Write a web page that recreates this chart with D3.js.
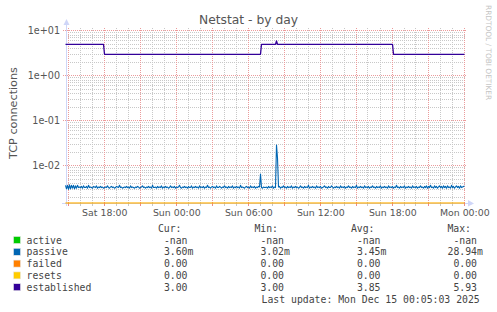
<!DOCTYPE html>
<html><head><meta charset="utf-8">
<script src="https://cdn.jsdelivr.net/npm/d3@7"></script>
<style>html,body{margin:0;padding:0;background:#fff;overflow:hidden}</style>
</head><body><svg id="c" width="497" height="312" xmlns="http://www.w3.org/2000/svg"></svg>
<script>
// ---------------- data ----------------
const chartTitle = "Netstat - by day";
const yAxisTitle = "TCP connections";
const watermark = "RRDTOOL / TOBI OETIKER";
const seriesNames = ["active", "passive", "failed", "resets", "established"];
const seriesColors = ["#00cc00", "#0066b3", "#ff8000", "#ffcc00", "#330099"];
const legendHeaders = ["Cur:", "Min:", "Avg:", "Max:"];
const legendCur = ["-nan", "3.60m", "0.00", "0.00", "3.00"];
const legendMin = ["-nan", "3.02m", "0.00", "0.00", "3.00"];
const legendAvg = ["-nan", "3.45m", "0.00", "0.00", "3.85"];
const legendMax = ["-nan", "28.94m", "0.00", "0.00", "5.93"];
const lastUpdate = "Last update: Mon Dec 15 00:05:03 2025";
const xTickLabels = ["Sat 18:00", "Sun 00:00", "Sun 06:00", "Sun 12:00", "Sun 18:00", "Mon 00:00"];
const yTickValues = [1e-2, 1e-1, 1, 10];
const yTickLabels = ["1e-02", "1e-01", "1e+00", "1e+01"];
const startTime = new Date(2025, 11, 13, 14, 45);
const endTime = new Date(2025, 11, 15, 0, 5);
const stepMinutes = 5;

// passive (values in milli-connections), one per 5-minute step
const passiveMilli = [
3.7,3.1,3.7,3.02,3.8,3.1,3.7,3.2,3.7,3.1,3.6,3.2,3.7,3.3,3.4,3.3,3.5,3.2,3.6,3.3,
3.3,3.5,3.2,3.7,3.3,3.4,3.3,3.2,3.5,3.4,3.3,3.6,3.2,3.4,3.3,3.5,3.3,3.4,3.2,3.3,
3.4,3.3,3.6,3.3,3.2,3.4,3.5,3.3,3.4,3.2,3.3,3.5,3.4,3.3,3.7,3.3,3.4,3.2,3.3,3.4,
3.3,3.5,3.3,3.4,3.2,3.6,3.3,3.4,3.3,3.2,3.4,3.3,3.5,3.4,3.2,3.3,3.4,3.6,3.3,3.4,
3.2,3.4,3.3,3.5,3.3,3.4,3.2,3.7,3.3,3.3,3.4,3.2,3.5,3.3,3.4,3.3,3.6,3.2,3.4,3.3,
3.5,3.3,3.4,3.2,3.3,3.6,3.3,3.4,3.3,3.5,3.2,3.4,3.3,3.4,3.7,3.3,3.2,3.4,3.3,3.5,
3.3,3.4,3.2,3.5,3.3,3.3,3.6,3.2,3.4,3.3,3.5,3.3,3.4,3.2,3.6,3.3,3.4,3.3,3.5,3.2,
3.4,3.3,3.7,3.3,3.4,3.2,3.4,3.5,3.3,3.4,3.2,3.6,3.3,3.3,3.5,3.4,3.2,3.4,3.3,3.6,
3.3,3.4,3.2,3.5,3.3,3.4,3.3,3.6,3.2,3.4,3.3,3.5,3.3,3.4,3.2,3.7,3.3,3.4,3.3,3.2,
3.4,3.5,3.3,3.4,3.2,3.6,3.3,3.4,3.3,3.5,3.2,3.4,3.3,3.5,3.4,6.6,3.3,3.2,3.4,3.3,
3.3,3.4,3.2,3.5,3.3,3.4,3.3,3.6,3.2,3.4,3.3,28.94,15.0,3.4,3.5,3.2,3.4,3.3,3.6,3.3,
3.4,3.2,3.5,3.3,3.4,3.3,3.6,3.2,3.4,3.3,3.5,3.3,3.4,3.2,3.3,3.6,3.3,3.4,3.2,3.5,
3.3,3.4,3.3,3.7,3.2,3.4,3.3,3.5,3.3,3.4,3.2,3.6,3.3,3.4,3.3,3.5,3.2,3.3,3.4,3.6,
3.3,3.4,3.2,3.5,3.3,3.3,3.6,3.4,3.2,3.4,3.3,3.5,3.3,3.4,3.2,3.6,3.3,3.4,3.3,3.5,
3.2,3.4,3.3,3.6,3.3,3.4,3.2,3.5,3.3,3.4,3.3,3.7,3.2,3.4,3.3,3.5,3.3,3.4,3.2,3.6,
3.3,3.4,3.3,3.5,3.2,3.4,3.3,3.6,3.3,3.4,3.2,3.5,3.3,3.4,3.3,3.6,3.2,3.4,3.3,3.5,
3.3,3.4,3.2,3.6,3.3,3.4,3.3,3.5,3.2,3.4,3.3,3.7,3.3,3.4,3.2,3.5,3.3,3.4,3.3,3.6,
3.2,3.4,3.3,3.5,3.3,3.4,3.2,3.6,3.3,3.4,3.3,3.5,3.2,3.4,3.3,3.6,3.3,3.4,3.2,3.5,
3.3,3.6,3.2,3.5,3.3,3.7,3.3,3.4,3.2,3.6,3.3,3.5,3.2,3.4,3.6,3.3,3.5,3.2,3.6,3.3,
3.5,3.2,3.6,3.3,3.4,3.2,3.7,3.3,3.5,3.2,3.4,3.6,3.3,3.5,3.2,3.6,3.3,3.4,3.5,3.6
];
// established: [step index, value] readings at change points
const establishedPoints = [[0,5],[38,5],[39,3],[195,3],[196,5],[210,5],[211,5.93],[212,5],[327,5],[328,3],[399,3]];
const failedPoints = [[0,0],[399,0]];
const resetsPoints = [[0,0],[399,0]];

// ---------------- drawing ----------------
const W = 497, H = 312;
const plot = {left: 65, right: 465, top: 28, bottom: 203};
const svg = d3.select("#c");
const fontSans = "'DejaVu Sans', Verdana, sans-serif";
const fontMono = "'DejaVu Sans Mono', monospace";
const textColor = "#555";

const x = d3.scaleTime().domain([startTime, endTime]).range([plot.left, plot.right]);
const y = d3.scaleLog().domain([1.5e-3, 11.5]).range([plot.bottom, plot.top]);
const tAt = i => new Date(startTime.getTime() + i * stepMinutes * 60000);
const yv = v => (v <= y.domain()[0] ? plot.bottom : y(v));
const crisp = v => Math.floor(v) + 0.5;

svg.append("rect").attr("width", W).attr("height", H).attr("fill", "#fff");

// grid
const g = svg.append("g");
const minorY = [];
for (let k = -3; k <= 1; k++) for (let m = 2; m <= 9; m++) {
  const v = m * Math.pow(10, k);
  if (v > y.domain()[0] && v < y.domain()[1]) minorY.push(v);
}
g.selectAll(".hmin").data(minorY).join("line")
  .attr("x1", plot.left + 1).attr("x2", plot.right + 1)
  .attr("y1", d => crisp(y(d))).attr("y2", d => crisp(y(d)))
  .attr("stroke", "#c8c8c8").attr("stroke-dasharray", "1,1");
const hours = d3.timeHour.range(startTime, endTime);
g.selectAll(".vmin").data(hours.filter(d => d.getHours() % 3 !== 0)).join("line")
  .attr("x1", d => crisp(x(d))).attr("x2", d => crisp(x(d)))
  .attr("y1", plot.top).attr("y2", plot.bottom)
  .attr("stroke", "#c8c8c8").attr("stroke-dasharray", "1,1");
g.selectAll(".vmaj").data(hours.filter(d => d.getHours() % 3 === 0)).join("line")
  .attr("x1", d => crisp(x(d))).attr("x2", d => crisp(x(d)))
  .attr("y1", plot.top).attr("y2", plot.bottom + 2)
  .attr("stroke", "#eb9b9b").attr("stroke-dasharray", "1,1");
g.selectAll(".hmaj").data(yTickValues).join("line")
  .attr("x1", plot.left - 2).attr("x2", plot.right + 1)
  .attr("y1", d => crisp(y(d))).attr("y2", d => crisp(y(d)))
  .attr("stroke", "#eb9b9b").attr("stroke-dasharray", "1,1");

// axes
const axisColor = "#cfd6f8";
svg.append("line").attr("x1", 66.5).attr("x2", 66.5).attr("y1", 22).attr("y2", plot.bottom + 3)
  .attr("stroke", axisColor);
svg.append("line").attr("x1", plot.left - 3).attr("x2", plot.right + 4).attr("y1", plot.bottom + 0.5).attr("y2", plot.bottom + 0.5)
  .attr("stroke", axisColor);
svg.append("path").attr("d", "M63.5,25 L69.5,25 L66.5,19 Z").attr("fill", axisColor);
svg.append("path").attr("d", `M${plot.right+3},200 L${plot.right+3},206.5 L${plot.right+9},203.5 Z`).attr("fill", axisColor);
// axis tick marks
svg.selectAll(".xt").data(hours).join("line")
  .attr("x1", d => crisp(x(d))).attr("x2", d => crisp(x(d)))
  .attr("y1", plot.bottom - 1).attr("y2", plot.bottom + 3)
  .attr("stroke", d => d.getHours() % 3 === 0 ? "#eb8a8a" : "#c8c8c8");

// series lines
const line = d3.line().x(d => x(tAt(d[0])) + 0.5).y(d => yv(d[1]));
const passiveData = passiveMilli.map((v, i) => [i, v / 1000]);
const seriesData = [null, passiveData, failedPoints, resetsPoints, establishedPoints];
seriesData.forEach((data, s) => {
  if (!data) return;
  const atBottom = s === 2 || s === 3;
  svg.append("path").datum(data).attr("d", line)
    .attr("fill", "none").attr("stroke", seriesColors[s])
    .attr("stroke-width", atBottom ? 1 : (s === 4 ? 1.3 : 1.1))
    .attr("stroke-opacity", atBottom ? 0.7 : 1)
    .attr("stroke-linejoin", "round");
});

// title
svg.append("text").attr("x", W / 2).attr("y", 24).attr("text-anchor", "middle")
  .attr("font-family", fontSans).attr("font-size", 12.3).attr("fill", textColor).text(chartTitle);
// y axis title
svg.append("text").attr("transform", "translate(16.5,113) rotate(-90)").attr("text-anchor", "middle")
  .attr("font-family", fontSans).attr("font-size", 11.2).attr("fill", textColor).text(yAxisTitle);
// watermark
svg.append("text").attr("transform", "translate(485.5,5) rotate(90)").attr("text-anchor", "start")
  .attr("font-family", fontSans).attr("font-size", 7.4).attr("fill", "#c4c4c4").text(watermark);

// y tick labels
svg.selectAll(".yl").data(yTickValues).join("text")
  .attr("x", 60).attr("y", d => y(d) + 3.6).attr("text-anchor", "end")
  .attr("font-family", fontSans).attr("font-size", 9.6).attr("fill", textColor)
  .text((d, i) => yTickLabels[i]);
// x tick labels
const sixHours = hours.filter(d => d.getHours() % 6 === 0);
svg.selectAll(".xl").data(sixHours).join("text")
  .attr("x", d => x(d) + 0.8).attr("y", 216.3).attr("text-anchor", "middle")
  .attr("font-family", fontSans).attr("font-size", 9.4).attr("fill", textColor)
  .text((d, i) => xTickLabels[i]);

// legend
const lg = svg.append("g").attr("font-family", fontMono).attr("font-size", 9.8).attr("fill", "#444");
const numEnds = [187.5, 284, 380.5, 477];
const cols = [legendCur, legendMin, legendAvg, legendMax];
const rowY = i => 243.5 + i * 11.8;
legendHeaders.forEach((h, c) => {
  lg.append("text").attr("x", numEnds[c] - 6).attr("y", 231.8).attr("text-anchor", "end").text(h);
});
seriesNames.forEach((name, i) => {
  lg.append("rect").attr("x", 13.5).attr("y", rowY(i) - 7).attr("width", 7).attr("height", 7)
    .attr("fill", seriesColors[i]).attr("stroke", "#e8e8e8").attr("stroke-width", 0.6);
  lg.append("text").attr("x", 26.5).attr("y", rowY(i)).text(name);
  cols.forEach((col, c) => {
    const isNan = col[i] === "-nan";
    const m = col[i].match(/^(.*?)([a-zA-Z]?)$/);
    const num = isNan ? col[i] : m[1];
    const suf = isNan ? "" : m[2];
    lg.append("text").attr("x", numEnds[c]).attr("y", rowY(i)).attr("text-anchor", "end").text(num);
    if (suf) lg.append("text").attr("x", numEnds[c]).attr("y", rowY(i)).text(suf);
  });
});
lg.append("text").attr("x", 261.5).attr("y", 302.5).text(lastUpdate);
</script>
</body></html>
